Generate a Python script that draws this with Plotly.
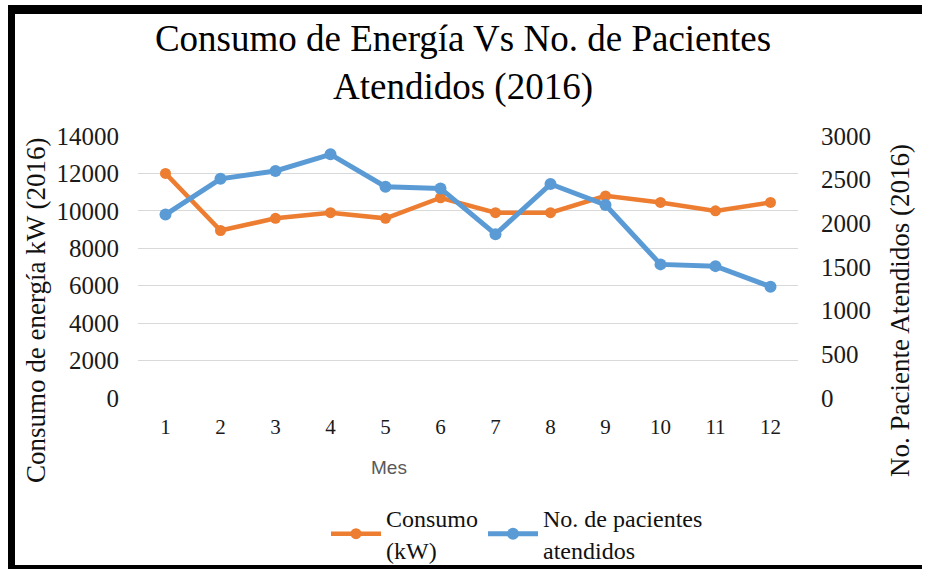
import plotly.graph_objects as go

meses = [1, 2, 3, 4, 5, 6, 7, 8, 9, 10, 11, 12]
consumo_kw = [12000, 8950, 9600, 9900, 9600, 10700, 9900, 9900, 10800, 10450, 10000, 10450]
pacientes = [2100, 2510, 2600, 2790, 2420, 2400, 1875, 2450, 2210, 1530, 1510, 1275]
ticks_izq = [0, 2000, 4000, 6000, 8000, 10000, 12000, 14000]
ticks_der = [0, 500, 1000, 1500, 2000, 2500, 3000]

W, H = 927, 569
L, R, T, B = 138, 798, 136, 398  # plot area in pixels
pw, ph = R - L, B - T

def px(x):
    return (x - L) / pw

def py(y):
    return (B - y) / ph

SERIF = "Liberation Serif, Times New Roman, serif"
SANS = "Liberation Sans, Arial, sans-serif"

fig = go.Figure()
fig.add_trace(go.Scatter(
    x=meses, y=consumo_kw, name="Consumo<br>(kW)", mode="lines+markers",
    line=dict(color="#ED7D31", width=4.5), marker=dict(size=11, color="#ED7D31"),
    yaxis="y"))
fig.add_trace(go.Scatter(
    x=meses, y=pacientes, name="No. de pacientes<br>atendidos", mode="lines+markers",
    line=dict(color="#5B9BD5", width=5), marker=dict(size=12, color="#5B9BD5"),
    yaxis="y2"))

fig.update_layout(
    width=W, height=H,
    margin=dict(l=L, r=W - R, t=T, b=H - B, autoexpand=False),
    paper_bgcolor="white", plot_bgcolor="white",
    showlegend=True,
    title=dict(text="Consumo de Energía Vs No. de Pacientes<br>Atendidos (2016)",
               x=px(463), xref="paper", xanchor="center",
               y=1 - 51 / H, yref="container", yanchor="middle",
               font=dict(family=SERIF, size=37, color="#000000")),
    xaxis=dict(range=[0.5, 12.5], tickmode="array", tickvals=meses,
               ticktext=[str(m) for m in meses], showgrid=False, zeroline=False,
               showline=False, ticks="", ticklabelstandoff=14, automargin=False,
               tickfont=dict(family=SERIF, size=21, color="#1a1a1a")),
    yaxis=dict(range=[0, 14000], tickmode="array", tickvals=ticks_izq,
               ticktext=[str(v) for v in ticks_izq], showgrid=True, gridcolor="#D9D9D9",
               gridwidth=1, zeroline=False, showline=False, ticks="",
               ticklabelstandoff=18, automargin=False,
               tickfont=dict(family=SERIF, size=25, color="#1a1a1a")),
    yaxis2=dict(range=[0, 3000], tickmode="array", tickvals=ticks_der,
                ticktext=[str(v) for v in ticks_der], overlaying="y", side="right",
                showgrid=False, zeroline=False, showline=False, ticks="",
                ticklabelstandoff=22, automargin=False,
                tickfont=dict(family=SERIF, size=25, color="#1a1a1a")),
    legend=dict(orientation="h", x=px(326), y=py(534), xanchor="left", yanchor="middle",
                font=dict(family=SERIF, size=24, color="#111111"),
                bgcolor="rgba(0,0,0,0)", itemwidth=50, tracegroupgap=0),
)

fig.add_annotation(text="Consumo de energía kW (2016)", textangle=-90, x=px(36), y=py(311),
                   xref="paper", yref="paper", xanchor="center", yanchor="middle",
                   showarrow=False, font=dict(family=SERIF, size=27, color="#111111"))
fig.add_annotation(text="No. Paciente Atendidos (2016)", textangle=-90, x=px(900), y=py(311),
                   xref="paper", yref="paper", xanchor="center", yanchor="middle",
                   showarrow=False, font=dict(family=SERIF, size=27, color="#111111"))
fig.add_annotation(text="Mes", x=px(389), y=py(467), xref="paper", yref="paper",
                   xanchor="center", yanchor="middle",
                   showarrow=False, font=dict(family=SANS, size=19, color="#595959"))

# black frame
for (x0, y0, x1, y1) in [(8, 5, 922, 14), (8, 5, 15, 569), (8, 565, 922, 572)]:
    fig.add_shape(type="rect", xref="paper", yref="paper",
                  x0=px(x0), x1=px(x1), y0=py(y1), y1=py(y0),
                  fillcolor="black", line=dict(width=0), layer="above")

fig.write_html("out.html", config={"displayModeBar": False},
               post_script="document.body.style.margin='0';")
